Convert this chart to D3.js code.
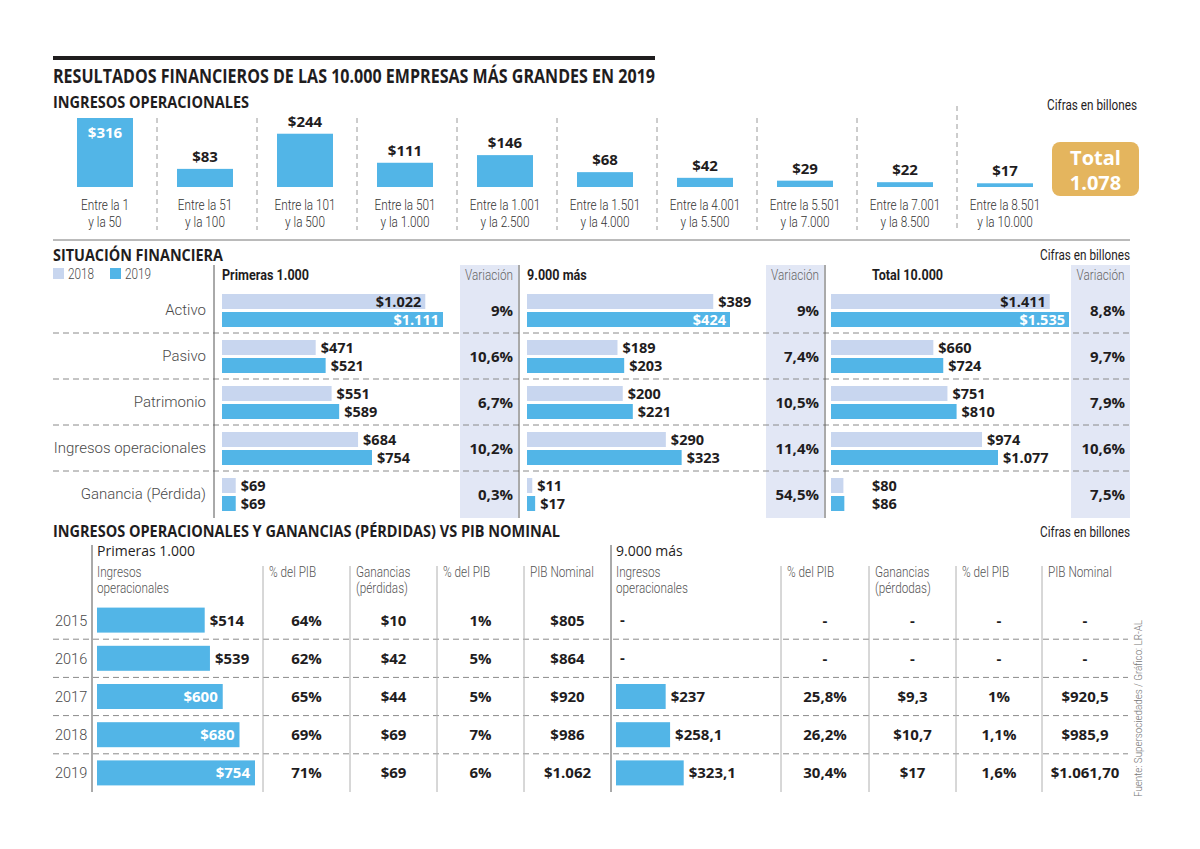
<!DOCTYPE html>
<html>
<head>
<meta charset="utf-8">
<script src="https://cdn.jsdelivr.net/npm/d3@7"></script>
<style>
body { margin: 0; background: #fff; }
text { font-family: "Open Sans", "Noto Sans", sans-serif; }
.cond { font-family: Roboto, "Noto Sans", sans-serif; }
.thin { font-family: Roboto, "Noto Sans", sans-serif; font-weight: 300; }
</style>
</head>
<body>
<div id="canvas"></div>
<script>
// ---- datos ----
const topCats = [
  ["Entre la 1", "y la 50"], ["Entre la 51", "y la 100"], ["Entre la 101", "y la 500"],
  ["Entre la 501", "y la 1.000"], ["Entre la 1.001", "y la 2.500"], ["Entre la 1.501", "y la 4.000"],
  ["Entre la 4.001", "y la 5.500"], ["Entre la 5.501", "y la 7.000"], ["Entre la 7.001", "y la 8.500"],
  ["Entre la 8.501", "y la 10.000"]
];
const topValues = [316, 83, 244, 111, 146, 68, 42, 29, 22, 17];
const topTotal = "1.078";

const sfRows = ["Activo", "Pasivo", "Patrimonio", "Ingresos operacionales", "Ganancia (Pérdida)"];
const primeras2018 = [1022, 471, 551, 684, 69];
const primeras2019 = [1111, 521, 589, 754, 69];
const primerasVar = ["9%", "10,6%", "6,7%", "10,2%", "0,3%"];
const nueve2018 = [389, 189, 200, 290, 11];
const nueve2019 = [424, 203, 221, 323, 17];
const nueveVar = ["9%", "7,4%", "10,5%", "11,4%", "54,5%"];
const total2018 = [1411, 660, 751, 974, 80];
const total2019 = [1535, 724, 810, 1077, 86];
const totalVar = ["8,8%", "9,7%", "7,9%", "10,6%", "7,5%"];

const years = ["2015", "2016", "2017", "2018", "2019"];
const p1Ingresos = [514, 539, 600, 680, 754];
const p1PctPib = ["64%", "62%", "65%", "69%", "71%"];
const p1Ganancias = ["$10", "$42", "$44", "$69", "$69"];
const p1PctGan = ["1%", "5%", "5%", "7%", "6%"];
const p1Pib = ["$805", "$864", "$920", "$986", "$1.062"];
const p2Ingresos = [null, null, 237, 258.1, 323.1];
const p2PctPib = ["-", "-", "25,8%", "26,2%", "30,4%"];
const p2Ganancias = ["-", "-", "$9,3", "$10,7", "$17"];
const p2PctGan = ["-", "-", "1%", "1,1%", "1,6%"];
const p2Pib = ["-", "-", "$920,5", "$985,9", "$1.061,70"];

// ---- estilo ----
const width = 1200, height = 849;
const blue = "#52b5e7", light = "#c8d6ef", bandFill = "#e2e7f5", gold = "#e4b55e";
const ink = "#1f1d1e", grey = "#4a4a4a";
const SX = 0.84; // letra condensada

const es = d3.formatLocale({ decimal: ",", thousands: ".", grouping: [3], currency: ["$", ""] });
const money = v => "$" + es.format(",")(v);
const at = (x, y) => `translate(${x},${y}) scale(${SX},1)`;

const svg = d3.select("#canvas").append("svg").attr("width", width).attr("height", height);
svg.append("rect").attr("width", width).attr("height", height).attr("fill", "#fff");

function heading(x, y, txt, size, len) {
  svg.append("text").attr("x", x).attr("y", y).text(txt)
    .attr("font-size", size).attr("font-weight", 700).attr("fill", ink)
    .attr("textLength", len).attr("lengthAdjust", "spacingAndGlyphs");
}
function note(x, y, txt) {
  svg.append("text").attr("class", "cond").attr("transform", at(x, y)).text(txt)
    .attr("font-size", 14).attr("fill", ink).attr("text-anchor", "end");
}
function dashedH(y, x1, x2) {
  svg.append("line").attr("x1", x1).attr("x2", x2).attr("y1", y).attr("y2", y)
    .attr("stroke", "#8a8a8a").attr("stroke-dasharray", "6,4");
}

// ---- cabecera ----
svg.append("rect").attr("x", 53).attr("y", 56).attr("width", 602).attr("height", 4).attr("fill", ink);
heading(53, 83, "RESULTADOS FINANCIEROS DE LAS 10.000 EMPRESAS MÁS GRANDES EN 2019", 19, 602);
heading(53, 108, "INGRESOS OPERACIONALES", 16, 196);
note(1137, 110, "Cifras en billones");

// ---- ingresos operacionales por rango ----
const xTop = d3.scaleBand().domain(d3.range(topValues.length)).range([55, 1055])
  .paddingInner(0.44).paddingOuter(0.22);
const yTop = d3.scaleLinear().domain([0, 316]).range([187, 118]);
const gTop = svg.append("g");

gTop.selectAll("line.sep").data(d3.range(1, topValues.length)).enter().append("line")
  .attr("x1", i => xTop(i) - xTop.step() * 0.2).attr("x2", i => xTop(i) - xTop.step() * 0.2)
  .attr("y1", i => i === topValues.length - 1 ? 106 : 118).attr("y2", 230)
  .attr("stroke", "#9a9a9a").attr("stroke-dasharray", "5,4");

gTop.selectAll("rect.bar").data(topValues).enter().append("rect")
  .attr("x", (d, i) => xTop(i)).attr("width", xTop.bandwidth())
  .attr("y", d => yTop(d)).attr("height", d => yTop(0) - yTop(d)).attr("fill", blue);

gTop.selectAll("text.val").data(topValues).enter().append("text")
  .attr("x", (d, i) => xTop(i) + xTop.bandwidth() / 2)
  .attr("y", (d, i) => i === 0 ? yTop(d) + 20 : yTop(d) - 7)
  .attr("text-anchor", "middle").attr("font-size", 15).attr("font-weight", 700)
  .attr("fill", (d, i) => i === 0 ? "#fff" : ink)
  .text(d => money(d));

const catText = gTop.selectAll("text.cat").data(topCats).enter().append("text")
  .attr("class", "thin").attr("text-anchor", "middle").attr("font-size", 14).attr("fill", "#333")
  .attr("transform", (d, i) => at(xTop(i) + xTop.bandwidth() / 2, 210));
catText.append("tspan").attr("x", 0).attr("y", 0).text(d => d[0]);
catText.append("tspan").attr("x", 0).attr("y", 17).text(d => d[1]);

svg.append("rect").attr("x", 1052).attr("y", 142).attr("width", 87).attr("height", 54).attr("rx", 8).attr("fill", gold);
svg.append("text").attr("x", 1095.5).attr("y", 165).attr("text-anchor", "middle")
  .attr("font-size", 20).attr("font-weight", 700).attr("fill", "#fff").text("Total");
svg.append("text").attr("x", 1095.5).attr("y", 190).attr("text-anchor", "middle")
  .attr("font-size", 20).attr("font-weight", 700).attr("fill", "#fff").text(topTotal);

svg.append("line").attr("x1", 53).attr("x2", 1130).attr("y1", 240).attr("y2", 240).attr("stroke", "#777");

// ---- situación financiera ----
heading(53, 261, "SITUACIÓN FINANCIERA", 16, 170);
note(1130, 260, "Cifras en billones");

svg.append("rect").attr("x", 53).attr("y", 268).attr("width", 11).attr("height", 11).attr("fill", light);
svg.append("text").attr("class", "thin").attr("transform", at(68, 279)).attr("font-size", 14).attr("fill", grey).text("2018");
svg.append("rect").attr("x", 110).attr("y", 268).attr("width", 11).attr("height", 11).attr("fill", blue);
svg.append("text").attr("class", "thin").attr("transform", at(125, 279)).attr("font-size", 14).attr("fill", grey).text("2019");

const yRow = d3.scaleBand().domain(sfRows).range([287, 517]);

const panels = [
  { title: "Primeras 1.000", v18: primeras2018, v19: primeras2019, vari: primerasVar,
    line: 214, x0: 222, w: 221, band: [460, 518], titleX: 222, labelMin: 0 },
  { title: "9.000 más", v18: nueve2018, v19: nueve2019, vari: nueveVar,
    line: 519, x0: 527, w: 203, band: [766, 824], titleX: 527, labelMin: 0 },
  { title: "Total 10.000", v18: total2018, v19: total2019, vari: totalVar,
    line: 825, x0: 831, w: 238, band: [1071, 1130], titleX: 872, labelMin: 41 }
];

panels.forEach(p => {
  svg.append("rect").attr("x", p.band[0]).attr("y", 265).attr("width", p.band[1] - p.band[0])
    .attr("height", 253).attr("fill", bandFill);
});

d3.range(1, sfRows.length).forEach(i => dashedH(yRow(sfRows[i]), 53, 1130));

panels.forEach(p => {
  const x = d3.scaleLinear().domain([0, d3.max(p.v19)]).range([p.x0, p.x0 + p.w]);
  const g = svg.append("g");
  svg.append("line").attr("x1", p.line).attr("x2", p.line).attr("y1", 265).attr("y2", 518).attr("stroke", "#555");

  g.append("text").attr("class", "cond").attr("transform", at(p.titleX, 280))
    .attr("font-size", 15).attr("font-weight", 700).attr("fill", ink).text(p.title);
  g.append("text").attr("class", "thin").attr("transform", at((p.band[0] + p.band[1]) / 2, 280))
    .attr("text-anchor", "middle").attr("font-size", 14).attr("fill", "#666").text("Variación");

  const series = [
    { vals: p.v18, fill: light, dy: 7, base: 19.5, inside: ink },
    { vals: p.v19, fill: blue, dy: 25, base: 38, inside: "#fff" }
  ];
  series.forEach(s => {
    g.selectAll(null).data(s.vals).enter().append("rect")
      .attr("x", x(0)).attr("y", (d, i) => yRow(sfRows[i]) + s.dy)
      .attr("width", d => x(d) - x(0)).attr("height", 15).attr("fill", s.fill);
    g.selectAll(null).data(s.vals).enter().append("text")
      .attr("font-size", 14.5).attr("font-weight", 700)
      .each(function (d, i) {
        const w = x(d) - x(0);
        const t = d3.select(this).attr("y", yRow(sfRows[i]) + s.base).text(money(d));
        if (w > 195) t.attr("x", x(d) - 4).attr("text-anchor", "end").attr("fill", s.inside);
        else t.attr("x", Math.max(x(d) + 5, x(0) + p.labelMin)).attr("fill", ink);
      });
  });

  g.selectAll(null).data(p.vari).enter().append("text")
    .attr("x", p.band[1] - 5).attr("y", (d, i) => yRow(sfRows[i]) + yRow.bandwidth() / 2 + 6)
    .attr("text-anchor", "end").attr("font-size", 15).attr("font-weight", 700).attr("fill", ink).text(d => d);
});

svg.selectAll("text.rowlab").data(sfRows).enter().append("text")
  .attr("class", "thin").attr("x", 206).attr("y", d => yRow(d) + yRow.bandwidth() / 2 + 5)
  .attr("text-anchor", "end").attr("font-size", 15).attr("fill", grey).text(d => d);

// ---- ingresos y ganancias vs PIB ----
heading(53, 537, "INGRESOS OPERACIONALES Y GANANCIAS (PÉRDIDAS) VS PIB NOMINAL", 16, 507);
note(1130, 537, "Cifras en billones");

const yYear = d3.scaleBand().domain(years).range([601, 792]);
const wBar = d3.scaleLinear().domain([0, 754]).range([0, 158]);

const groups = [
  { title: "Primeras 1.000", x0: 97, line: 92, cols: [263, 350, 437, 524, 611],
    ing: p1Ingresos, texts: [p1PctPib, p1Ganancias, p1PctGan, p1Pib],
    heads: [["Ingresos", "operacionales"], ["% del PIB"], ["Ganancias", "(pérdidas)"], ["% del PIB"], ["PIB Nominal"]] },
  { title: "9.000 más", x0: 616, line: 611, cols: [781, 869, 956, 1042, 1128],
    ing: p2Ingresos, texts: [p2PctPib, p2Ganancias, p2PctGan, p2Pib],
    heads: [["Ingresos", "operacionales"], ["% del PIB"], ["Ganancias", "(pérdodas)"], ["% del PIB"], ["PIB Nominal"]] }
];

d3.range(1, years.length).forEach(i => dashedH(yYear(years[i]), 53, 1128));

groups.forEach(gr => {
  const g = svg.append("g");
  g.append("line").attr("x1", gr.line).attr("x2", gr.line).attr("y1", 545).attr("y2", 792).attr("stroke", "#555");
  gr.cols.slice(0, 4).forEach(c => {
    g.append("line").attr("x1", c).attr("x2", c).attr("y1", 566).attr("y2", 792).attr("stroke", "#b0b0b0");
  });
  g.append("text").attr("x", gr.x0).attr("y", 556).attr("font-size", 14).attr("fill", ink).text(gr.title);

  const headX = [gr.x0].concat(gr.cols.slice(0, 4).map(c => c + 6));
  gr.heads.forEach((h, j) => {
    const t = g.append("text").attr("class", "thin").attr("font-size", 14).attr("fill", "#555")
      .attr("transform", at(headX[j], 577));
    h.forEach((line, k) => t.append("tspan").attr("x", 0).attr("y", k * 16).text(line));
  });

  const cy = i => yYear(years[i]) + yYear.bandwidth() / 2;
  const rows = gr.ing.map((d, i) => ({ v: d, i }));

  g.selectAll(null).data(rows.filter(r => r.v === null)).enter().append("text")
    .attr("x", gr.x0 + 4).attr("y", r => cy(r.i) + 5).attr("font-size", 15).attr("font-weight", 700)
    .attr("fill", ink).text("-");

  const bars = rows.filter(r => r.v !== null);
  g.selectAll(null).data(bars).enter().append("rect")
    .attr("x", gr.x0).attr("y", r => cy(r.i) - 12.5).attr("width", r => wBar(r.v)).attr("height", 25).attr("fill", blue);
  g.selectAll(null).data(bars).enter().append("text")
    .attr("x", r => r.v >= 600 ? gr.x0 + wBar(r.v) - 5 : gr.x0 + wBar(r.v) + 5).attr("y", r => cy(r.i) + 5.5)
    .attr("text-anchor", r => r.v >= 600 ? "end" : "start").attr("font-size", 15).attr("font-weight", 700)
    .attr("fill", r => r.v >= 600 ? "#fff" : ink).text(r => money(r.v));

  gr.texts.forEach((col, j) => {
    const cx = (gr.cols[j] + gr.cols[j + 1]) / 2;
    g.selectAll(null).data(col).enter().append("text")
      .attr("x", cx).attr("y", (d, i) => cy(i) + 5.5).attr("text-anchor", "middle")
      .attr("font-size", 15).attr("font-weight", 700).attr("fill", ink).text(d => d);
  });
});

svg.selectAll("text.year").data(years).enter().append("text")
  .attr("class", "thin").attr("x", 55).attr("y", d => yYear(d) + yYear.bandwidth() / 2 + 5.5)
  .attr("font-size", 14.5).attr("fill", grey).text(d => d);

svg.append("text").attr("class", "thin").attr("transform", "translate(1142,797) rotate(-90)")
  .attr("font-size", 11.5).attr("fill", "#777").attr("textLength", 177).attr("lengthAdjust", "spacingAndGlyphs")
  .text("Fuente: Supersociedades / Gráfico: LR-AL");
</script>
</body>
</html>
